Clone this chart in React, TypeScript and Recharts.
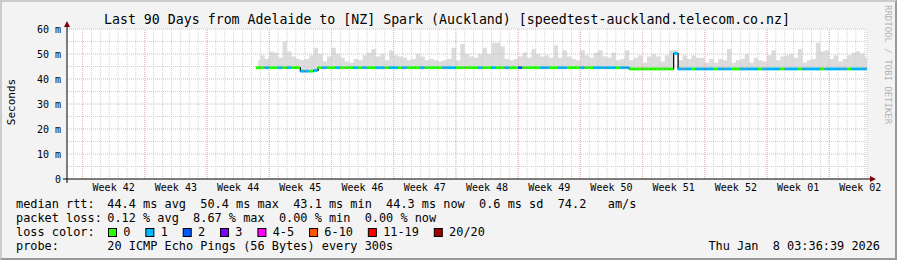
import React from 'react';
import {
  ComposedChart,
  XAxis,
  YAxis,
  CartesianGrid,
  Area,
  Bar,
  Line,
  Cell,
  ReferenceLine,
} from 'recharts';

const W = 897;
const H = 260;
const FONT = '"DejaVu Sans Mono", monospace';

// ---- axes ----
const firstWeekStart = 1.75; // days from the left edge of the 90-day window to the first Monday
const weekLabels = [
  'Week 42', 'Week 43', 'Week 44', 'Week 45', 'Week 46', 'Week 47', 'Week 48',
  'Week 49', 'Week 50', 'Week 51', 'Week 52', 'Week 01', 'Week 02',
];
const weekMidTicks = weekLabels.map((_, k) => firstWeekStart + 3.5 + 7 * k);
const weekStartTicks = weekLabels.map((_, k) => firstWeekStart + 7 * k);
const dayTicks = [...Array.from({ length: 90 }, (_, k) => 0.75 + k), 90];
const yMajorTicks = [0, 10, 20, 30, 40, 50, 60];
const yTickLabels = ['0', '10 m', '20 m', '30 m', '40 m', '50 m', '60 m'];
const yMinorTicks = [5, 15, 25, 35, 45, 55];

// ---- samples (one every half day, starting at day 21.5) ----
const sampleStart = 21.5;
const sampleStep = 0.5;

const medianRtt = [
  44.5, 44.5, 44.5, 44.5, 44.5, 44.5, 44.5, 44.5, 44.5, 44.5,
  43.1, 43.1, 43.1, 43.4, 44.5, 44.5, 44.5, 44.5, 44.5, 44.5,
  44.5, 44.5, 44.5, 44.5, 44.5, 44.5, 44.5, 44.5, 44.5, 44.5,
  44.5, 44.5, 44.5, 44.5, 44.5, 44.5, 44.5, 44.5, 44.5, 44.5,
  44.5, 44.5, 44.5, 44.5, 44.5, 44.5, 44.5, 44.5, 44.5, 44.5,
  44.5, 44.5, 44.5, 44.5, 44.5, 44.5, 44.5, 44.5, 44.5, 44.5,
  44.5, 44.5, 44.5, 44.5, 44.5, 44.5, 44.5, 44.5, 44.5, 44.5,
  44.5, 44.5, 44.5, 44.5, 44.5, 44.5, 44.5, 44.5, 44.5, 44.5,
  44.5, 44.5, 44.5, 44.5, 44.0, 44.0, 44.0, 44.0, 44.0, 44.0,
  44.0, 44.0, 44.0, 44.0, 50.2, 44.0, 44.0, 44.0, 44.0, 44.0,
  44.0, 44.0, 44.0, 44.0, 44.0, 44.0, 44.0, 44.0, 44.0, 44.0,
  44.0, 44.0, 44.0, 44.0, 44.0, 44.0, 44.0, 44.0, 44.0, 44.0,
  44.0, 44.0, 44.0, 44.0, 44.0, 44.0, 44.0, 44.0, 44.0, 44.0,
  44.0, 44.0, 44.0, 44.0, 44.0, 44.0, 44.0, 44.0,
];

const smokeTop = [
  47.5, 49.5, 48, 51, 50.5, 48.5, 55, 51, 49, 48,
  47.5, 48, 49.5, 52.5, 50, 47, 49, 52.5, 50, 48.5,
  47, 46.5, 48, 47.5, 49.5, 50.5, 52, 49, 50, 47.5,
  51.5, 49.5, 49, 48.5, 47.5, 48, 50, 49, 47.5, 48,
  47.5, 47, 47.5, 48, 52.5, 47.5, 54, 50, 49, 48.5,
  50, 52.5, 50, 54.5, 54.5, 53, 48, 47.5, 48, 49,
  50.5, 48.5, 52, 50, 49, 49.5, 48.5, 53.5, 48.5, 51.5,
  49, 48, 47.5, 51.5, 49.5, 48.5, 50.5, 51.5, 49, 48.5,
  50.5, 47.5, 48, 51.5, 47.5, 48.5, 49.5, 46.5, 49, 50,
  49, 47, 49.5, 51.5, 51.5, 47.5, 49.5, 48, 49.5, 48.5,
  48.5, 46.5, 48, 46.5, 48, 47.5, 52, 46.5, 47.5, 48,
  50, 46.5, 48.5, 47.5, 47, 49.5, 51.5, 47.5, 49, 49.5,
  50, 48.5, 52, 46.5, 47.5, 48, 54.5, 51, 51.5, 48,
  49.5, 47, 48, 49.5, 50.5, 51, 50, 48.5,
];

const lostPings = [
  0, 0, 1, 0, 0, 1, 0, 1, 0, 0,
  1, 1, 0, 1, 0, 1, 0, 0, 1, 0,
  0, 0, 1, 0, 1, 0, 0, 1, 1, 0,
  1, 1, 0, 1, 0, 0, 0, 1, 0, 0,
  0, 0, 1, 1, 1, 0, 0, 0, 0, 0,
  1, 0, 0, 1, 0, 0, 1, 0, 0, 2,
  0, 0, 0, 0, 1, 1, 0, 0, 1, 1,
  0, 0, 0, 1, 0, 0, 1, 1, 1, 1,
  1, 0, 1, 1, 0, 0, 0, 0, 0, 0,
  0, 0, 0, 0, 1, 1, 1, 1, 0, 1,
  1, 1, 1, 0, 1, 1, 1, 0, 0, 1,
  1, 1, 1, 0, 1, 1, 1, 1, 0, 1,
  1, 1, 0, 1, 1, 1, 1, 0, 1, 1,
  1, 1, 1, 0, 1, 1, 1, 1,
];

// ---- legend ----
const lossLabels = ['0', '1', '2', '3', '4-5', '6-10', '11-19', '20/20'];
const lossColors = ['#26ff00', '#00b8ff', '#0059ff', '#7e00ff', '#ff00ff', '#ff5500', '#ff0000', '#a10000'];
const lossUpper = [0, 1, 2, 3, 5, 10, 19, 20];

const titleText = 'Last 90 Days from Adelaide to [NZ] Spark (Auckland) [speedtest-auckland.telecom.co.nz]';
const rttLabel = 'median rtt:';
const rttValues = '44.4 ms avg  50.4 ms max  43.1 ms min  44.3 ms now  0.6 ms sd  74.2   am/s';
const lossLabel = 'packet loss:';
const lossValues = '0.12 % avg  8.67 % max  0.00 % min  0.00 % now';
const colorLabel = 'loss color:';
const probeLabel = 'probe:';
const probeValue = '20 ICMP Echo Pings (56 Bytes) every 300s';
const stampText = 'Thu Jan  8 03:36:39 2026';
const yLabel = 'Seconds';
const watermark = 'RRDTOOL / TOBI OETIKER';

const lossBucket = (n: number) => lossUpper.findIndex((u) => n <= u);

const rows = medianRtt.map((m, i) => ({
  t: sampleStart + sampleStep * i,
  median: m,
  smoke: [m, smokeTop[i]],
  band: [m - 0.55, m + 0.6],
  loss: lostPings[i],
}));

const XArrowAxis = (p: any) => {
  const y = p.y1;
  const a = Math.min(p.x1, p.x2) - 4;
  const b = Math.max(p.x1, p.x2) + 3;
  return (
    <g>
      <line x1={a} y1={y} x2={b} y2={y} stroke="#000" strokeWidth={1} />
      <polygon points={`${b},${y - 3} ${b + 6},${y} ${b},${y + 3}`} fill="#7f0000" />
    </g>
  );
};

const YArrowAxis = (p: any) => {
  const x = p.x1;
  const top = Math.min(p.y1, p.y2) - 2;
  const bottom = Math.max(p.y1, p.y2) + 4;
  return (
    <g>
      <line x1={x} y1={bottom} x2={x} y2={top} stroke="#000" strokeWidth={1} />
      <polygon points={`${x - 3},${top} ${x},${top - 6} ${x + 3},${top}`} fill="#7f0000" />
    </g>
  );
};

const CW = 7.15; // legend character advance
const MINOR = '#d0d0d0';
const MAJOR = '#f0b0b0';

const T = (props: any) => (
  <text xmlSpace="preserve" style={{ whiteSpace: 'pre' }} fontFamily={FONT} fill="#000" fontSize={11.88} {...props} />
);

export default function App() {
  let bx = 108.5;
  const boxes = lossLabels.map((lab, i) => {
    const item = { x: bx, lab, color: lossColors[i] };
    bx += 30.2 + CW * lab.length;
    return item;
  });

  return (
    <div style={{ position: 'absolute', left: 0, top: 0, width: W, height: H, background: '#f3f3f3' }}>
      <div style={{ position: 'absolute', left: 0, top: 0 }}>
        <ComposedChart width={W} height={H} data={rows} margin={{ top: 29, right: 30, bottom: 51, left: 0 }}>
          <CartesianGrid fill="#ffffff" horizontal={false} vertical={false} />
          <XAxis
            type="number"
            dataKey="t"
            domain={[0, 90]}
            ticks={weekMidTicks}
            interval={0}
            allowDataOverflow
            axisLine={false}
            tickLine={false}
            tickSize={3}
            tickMargin={2}
            height={30}
            tick={{ fontSize: 10, fill: '#000', fontFamily: FONT }}
            tickFormatter={(v: number) => weekLabels[weekMidTicks.indexOf(v)] ?? ''}
          />
          <YAxis
            type="number"
            domain={[0, 60]}
            ticks={yMajorTicks}
            interval={0}
            allowDataOverflow
            width={67}
            axisLine={false}
            tickLine={false}
            tickSize={4}
            tickMargin={2}
            tick={{ fontSize: 10, fill: '#000', fontFamily: FONT }}
            tickFormatter={(v: number) => yTickLabels[yMajorTicks.indexOf(v)] ?? ''}
          />
          <Area
            dataKey="smoke"
            type="step"
            stroke="none"
            fill="#dcdcdc"
            fillOpacity={1}
            isAnimationActive={false}
          />
          {dayTicks.map((d) => (
            <ReferenceLine key={'d' + d} x={d} stroke={MINOR} strokeDasharray="1 1" zIndex={150} />
          ))}
          {yMinorTicks.map((v) => (
            <ReferenceLine key={'ym' + v} y={v} stroke={MINOR} strokeDasharray="1 1" zIndex={150} />
          ))}
          {weekStartTicks.map((d) => (
            <ReferenceLine key={'w' + d} x={d} stroke={MAJOR} strokeDasharray="1 1" zIndex={160} />
          ))}
          {yMajorTicks.slice(1).map((v) => (
            <ReferenceLine key={'yM' + v} y={v} stroke={MAJOR} strokeDasharray="1 1" zIndex={160} />
          ))}
          <Line dataKey="median" type="step" stroke="#000" strokeWidth={1.2} dot={false} isAnimationActive={false} zIndex={400} />
          <Bar dataKey="band" barSize={4.45} isAnimationActive={false} zIndex={450}>
            {rows.map((r, i) => (
              <Cell key={i} fill={lossColors[lossBucket(r.loss)]} />
            ))}
          </Bar>
          <ReferenceLine y={0} shape={XArrowAxis} zIndex={600} />
          <ReferenceLine x={0} shape={YArrowAxis} zIndex={600} />
        </ComposedChart>
      </div>
      <svg width={W} height={H} style={{ position: 'absolute', left: 0, top: 0, pointerEvents: 'none' }}>
        <T x={447} y={23.5} fontSize={13.25} textAnchor="middle">{titleText}</T>
        <T x={15} y={102} fontSize={11} textAnchor="middle" transform="rotate(-90 15 102)">{yLabel}</T>
        <T x={885} y={5} fontSize={9} fill="#b4b4b4" transform="rotate(90 885 5)">{watermark}</T>
        <T x={16} y={208}>{rttLabel}</T>
        <T x={107.3} y={208}>{rttValues}</T>
        <T x={16} y={222}>{lossLabel}</T>
        <T x={107.3} y={222}>{lossValues}</T>
        <T x={16} y={236}>{colorLabel}</T>
        {boxes.map((b) => (
          <g key={b.lab}>
            <rect x={b.x} y={228.5} width={8} height={8} fill={b.color} stroke="#000" strokeWidth={1} />
            <T x={b.x + 14.8} y={236}>{b.lab}</T>
          </g>
        ))}
        <T x={16} y={250}>{probeLabel}</T>
        <T x={107.3} y={250}>{probeValue}</T>
        <T x={880} y={250} textAnchor="end">{stampText}</T>
      </svg>
      <div
        style={{
          position: 'absolute',
          left: 0,
          top: 0,
          width: W,
          height: H,
          boxSizing: 'border-box',
          borderTop: '2px solid #cbcbcb',
          borderLeft: '2px solid #cbcbcb',
          borderRight: '2px solid #999999',
          borderBottom: '2px solid #999999',
          pointerEvents: 'none',
        }}
      />
    </div>
  );
}
